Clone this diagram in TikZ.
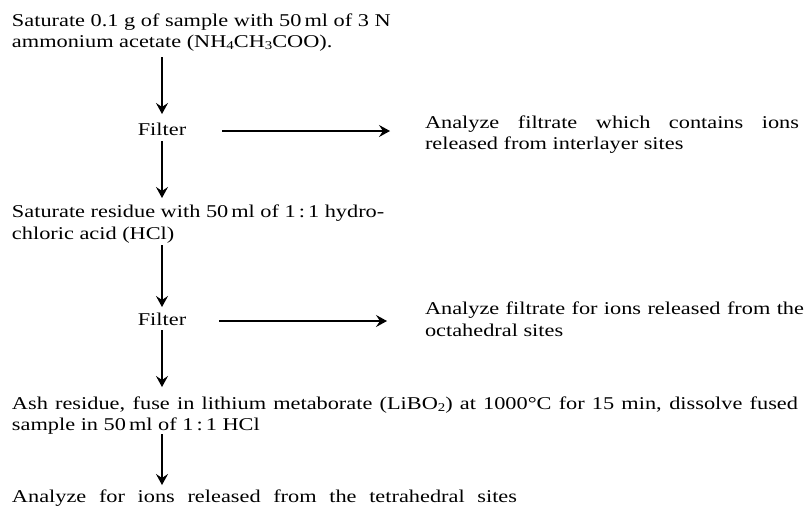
\documentclass[tikz,border=0pt]{standalone}
\usepackage{fontspec}
\setmainfont{Liberation Serif}[FakeStretch=1.24]
\usetikzlibrary{arrows.meta}
\newcommand{\chemsub}[1]{\raisebox{-0.35ex}{\fontsize{12}{12}\selectfont #1}}
\begin{document}
\begin{tikzpicture}[x=1pt,y=-1pt,
  txt/.style={anchor=base west, inner sep=0pt, outer sep=0pt, font=\fontsize{18}{21}\selectfont},
  flt/.style={anchor=base, inner sep=0pt, font=\fontsize{18}{21}\selectfont},
  arr/.style={line width=1.2pt, -{Stealth[length=11pt,width=12pt,inset=4pt]}}]
\useasboundingbox (0,0) rectangle (806,507);
% left column
\node[txt] (l1) at (12,26) {Saturate 0.1 g of sample with 50\,ml of 3 N};
\node[txt] (l2) at (12,47) {ammonium acetate (NH\chemsub{4}CH\chemsub{3}COO).};
\node[flt] (f1) at (162,135) {Filter};
\node[txt] (l3) at (12,217) {Saturate residue with 50\,ml of 1\,:\,1 hydro-};
\node[txt] (l4) at (12,239) {chloric acid (HCl)};
\node[flt] (f2) at (162,325) {Filter};
\node[txt] (l5) at (12,409) {\makebox[786pt][s]{Ash residue, fuse in lithium metaborate (LiBO\chemsub{2}) at 1000°C for 15 min, dissolve fused}};
\node[txt] (l6) at (12,430) {sample in 50\,ml of 1\,:\,1 HCl};
\node[txt] (l7) at (12,502) {\makebox[505pt][s]{Analyze for ions released from the tetrahedral sites}};
% right column
\node[txt] (r1) at (425,128) {\makebox[374pt][s]{Analyze filtrate which contains ions}};
\node[txt] (r2) at (425,149) {released from interlayer sites};
\node[txt] (r3) at (425,314) {\makebox[379pt][s]{Analyze filtrate for ions released from the}};
\node[txt] (r4) at (425,336) {octahedral sites};
% arrow coordinates
\coordinate (a1s) at (162,57);
\coordinate (a1e) at (162,114);
\coordinate (a2s) at (162,141);
\coordinate (a2e) at (162,198);
\coordinate (a3s) at (162,245);
\coordinate (a3e) at (162,307);
\coordinate (a4s) at (162,330);
\coordinate (a4e) at (162,387);
\coordinate (a5s) at (162,434);
\coordinate (a5e) at (162,485);
\coordinate (h1s) at (222,131);
\coordinate (h1e) at (390,131);
\coordinate (h2s) at (219,321);
\coordinate (h2e) at (387,321);
\draw[arr] (a1s) -- (a1e);
\draw[arr] (a2s) -- (a2e);
\draw[arr] (a3s) -- (a3e);
\draw[arr] (a4s) -- (a4e);
\draw[arr] (a5s) -- (a5e);
\draw[arr] (h1s) -- (h1e);
\draw[arr] (h2s) -- (h2e);
\end{tikzpicture}
\end{document}
